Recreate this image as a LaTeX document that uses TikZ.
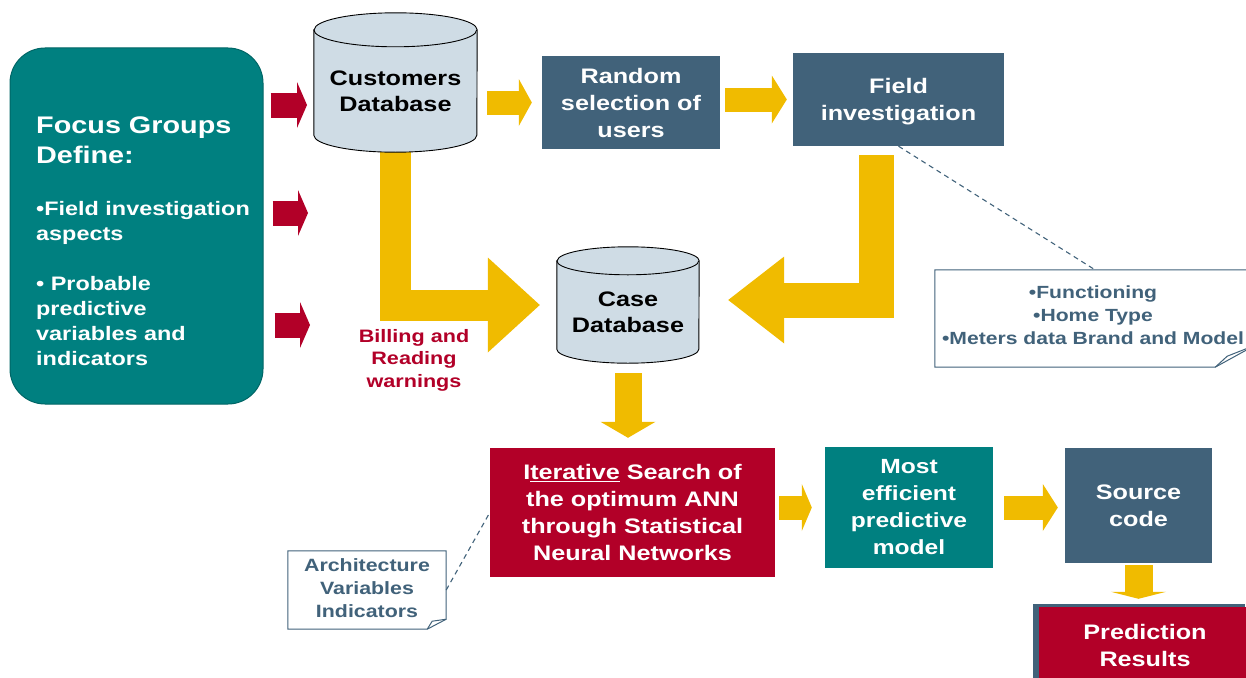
\documentclass[tikz,border=0pt]{standalone}
\usepackage{fontspec}
\setmainfont{Liberation Sans}[FakeStretch=1.2]
\usetikzlibrary{arrows.meta,calc,shadows}

\definecolor{fgteal}{RGB}{0,128,128}
\definecolor{fgslate}{RGB}{65,98,122}
\definecolor{fgred}{RGB}{178,0,40}
\definecolor{fgyellow}{RGB}{240,187,0}
\definecolor{dbfill}{RGB}{207,220,229}

\newcommand\bsize[2]{\fontsize{#1}{#2}\selectfont\bfseries}

\begin{document}
\begin{tikzpicture}[x=1pt,y=1pt,
  box/.style={rectangle, inner sep=0pt, align=center, text=white, font=\bsize{21}{27}},
  dbtext/.style={align=center, inner sep=0pt, font=\bsize{21}{26}},
  lefttext/.style={anchor=west, align=left, inner sep=0pt, text=white},
  notetext/.style={align=center, inner sep=0pt, text=fgslate},
  noteframe/.style={draw=fgslate, line width=1pt, fill=white},
  cylbody/.style={fill=dbfill, draw=black, line width=0.9pt},
  yarrow/.style n args={3}{draw=fgyellow, line width=#1, -{Triangle[length=#2, width=#3, line width=0pt]}},
  rarrow/.style={draw=fgred, line width=25pt, -{Triangle[length=10pt, width=46pt, line width=0pt]}},
  leader/.style={draw=fgslate, line width=1.1pt, dash pattern=on 5pt off 4pt},
]
\useasboundingbox (0,0) rectangle (1246,-677);

% focus group panel
\node[rectangle, rounded corners=35pt, fill=fgteal, draw=fgteal!80!black, line width=1pt,
      minimum width=253, minimum height=356] (focus) at (136.5,-226) {};
\node[lefttext, font=\bsize{24}{30}] (ftitle) at (36,-140) {Focus Groups\\Define:};
\node[lefttext, font=\bsize{19.5}{25}] (fb1) at (36,-222.5) {•Field investigation\\aspects};
\node[lefttext, font=\bsize{19.5}{25}] (fb2) at (36,-321) {• Probable\\predictive\\variables and\\indicators};

% process boxes
\node[box, fill=fgslate, minimum width=178, minimum height=93] (random) at (631,-102.5) {Random\\selection of\\users};
\node[box, fill=fgslate, minimum width=211, minimum height=93] (field) at (898.5,-99.5) {};
\node[box] (fieldtxt) at (898.5,-101.5) {Field\\investigation};
\node[box, fill=fgred, minimum width=285, minimum height=129, font=\bsize{21}{27}] (iter) at (632.5,-512.5)
  {I\underline{terative} Search of\\the optimum ANN\\through Statistical\\Neural Networks};
\node[box, fill=fgteal, minimum width=168, minimum height=121, font=\bsize{20.5}{27}] (model) at (909,-507.5)
  {Most\\efficient\\predictive\\model};
\node[box, fill=fgslate, minimum width=147, minimum height=115] (source) at (1138.5,-505.5) {Source\\code};
\node[box, fill=fgred, minimum width=212, minimum height=77,
      general shadow={fill=fgslate, shadow xshift=-6pt, shadow yshift=3pt}] (predict) at (1145,-645.5)
  {Prediction\\Results};

% database bodies (drawn further down, above the arrows)
\node[inner sep=0, minimum width=163, minimum height=105] (cdb) at (395.5,-82.5) {};
\node[inner sep=0, minimum width=142, minimum height=88] (casedb) at (628,-305) {};

% notes
\node[inner sep=0, minimum width=320, minimum height=97] (note1) at (1095,-318.5) {};
\draw[noteframe] (note1.north west) -- (note1.north east) -- ($(note1.south east)+(0,22)$)
  -- ($(note1.south east)+(-40,0)$) -- (note1.south west) -- cycle;
\draw[noteframe, fill=none] ($(note1.south east)+(-40,0)$) -- ($(note1.south east)+(-28,11)$) -- ($(note1.south east)+(0,22)$);
\node[notetext, font=\bsize{17.6}{23}] (note1txt) at (1093,-315)
  {•Functioning\\•Home Type\\•Meters data Brand and Model};

\node[inner sep=0, minimum width=158, minimum height=78] (note2) at (367,-590) {};
\draw[noteframe] (note2.north west) -- (note2.north east) -- ($(note2.south east)+(0,10)$)
  -- ($(note2.south east)+(-19,0)$) -- (note2.south west) -- cycle;
\draw[noteframe, fill=none] ($(note2.south east)+(-19,0)$) -- ($(note2.south east)+(-14,8)$) -- ($(note2.south east)+(0,10)$);
\node[notetext, font=\bsize{17.8}{23}] (note2txt) at (367,-588) {Architecture\\Variables\\Indicators};

% leader lines
\draw[leader] (field.south) -- (note1.north);
\draw[leader] (note2.east) -- (iter.west);

% red input arrows
\coordinate (r1) at (307,-105);
\coordinate (r2) at (308,-213);
\coordinate (r3) at (310,-325);
\draw[rarrow, shorten <=7pt] (focus.east |- r1) -- (r1);
\draw[rarrow, shorten <=9pt] (focus.east |- r2) -- (r2);
\draw[rarrow, shorten <=11pt] (focus.east |- r3) -- (r3);

% yellow flow arrows
\draw[yarrow={24pt}{13pt}{47pt}, shorten <=10pt, shorten >=10pt] (cdb.east |- random.west) -- (random.west);
\draw[yarrow={24pt}{15pt}{48pt}, shorten <=5pt, shorten >=6pt] (random.east |- field.west) -- (field.west);
\draw[yarrow={31pt}{52pt}{95pt}, line join=miter, shorten >=17pt] (cdb.south) |- (casedb.west);
\coordinate (fdown) at (876.5,-155);
\draw[yarrow={35pt}{56pt}{87pt}, line join=miter, shorten >=29pt] (fdown) |- ([yshift=5pt]casedb.east);
\draw[yarrow={27pt}{16pt}{55pt}, shorten <=24pt, shorten >=10pt] (casedb.south) -- (casedb.south |- iter.north);
\draw[yarrow={24pt}{10pt}{47pt}, shorten <=4pt, shorten >=13pt] (iter.east |- model.west) -- (model.west);
\draw[yarrow={24pt}{15pt}{47pt}, shorten <=11pt, shorten >=7pt] (model.east) -- (model.east -| source.west);
\draw[yarrow={28pt}{7pt}{55pt}, shorten <=2pt, shorten >=8pt] (source.south) -- (source.south |- predict.north);

% database cylinders
\path[cylbody] (cdb.north west) -- (cdb.south west)
  arc[start angle=180, end angle=360, x radius=81.5, y radius=17] -- (cdb.north east)
  arc[start angle=0, end angle=180, x radius=81.5, y radius=17] -- cycle;
\draw[line width=0.9pt] (cdb.north west) arc[start angle=180, end angle=360, x radius=81.5, y radius=17];
\node[dbtext] (cdbtxt) at ($(cdb)+(0,-8.5)$) {Customers\\Database};

\path[cylbody] (casedb.north west) -- (casedb.south west)
  arc[start angle=180, end angle=360, x radius=71, y radius=14] -- (casedb.north east)
  arc[start angle=0, end angle=180, x radius=71, y radius=14] -- cycle;
\draw[line width=0.9pt] (casedb.north west) arc[start angle=180, end angle=360, x radius=71, y radius=14];
\node[dbtext] (casetxt) at ($(casedb)+(0,-7.5)$) {Case\\Database};

% warnings label
\node[align=center, inner sep=0, text=fgred, font=\bsize{18}{22.5}] (billing) at (414,-360)
  {Billing and\\Reading\\warnings};
\end{tikzpicture}
\end{document}
